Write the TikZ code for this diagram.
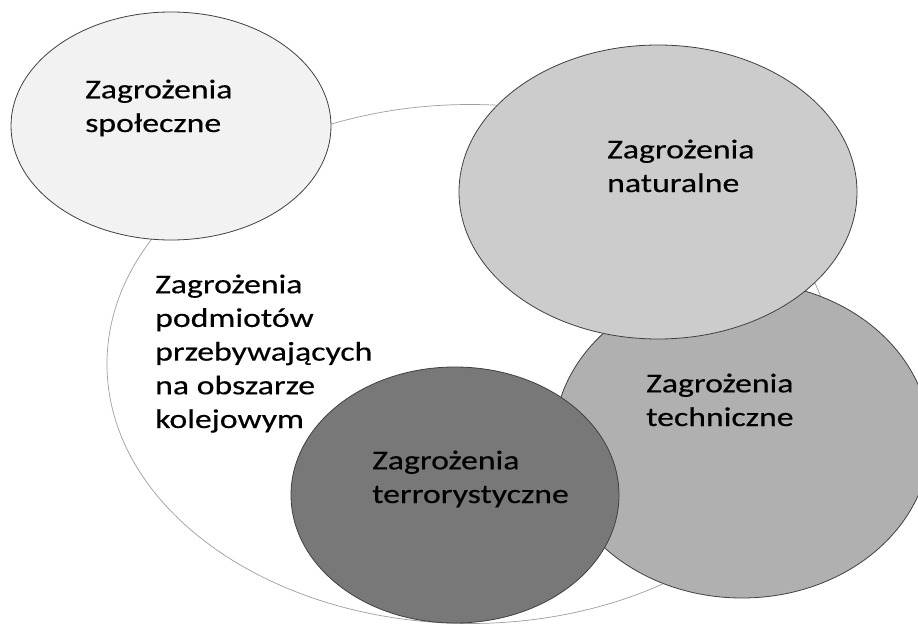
\documentclass[tikz,border=0pt]{standalone}
\usepackage{fontspec}
\setmainfont{Carlito}[FakeStretch=1.25,FakeBold=0.4]
\usetikzlibrary{shapes.geometric}
\begin{document}
\begin{tikzpicture}[x=1pt,y=-1pt,
  blob/.style={ellipse,draw=black!75,line width=0.8pt,inner sep=0pt},
  lbl/.style={anchor=base west,align=left,inner sep=0pt,font=\fontsize{27}{33.7}\selectfont}]
\useasboundingbox[fill=white] (0,0) rectangle (918,626);
\node[ellipse,draw=black!38,line width=0.7pt,minimum width=726pt,minimum height=519pt] (outer) at (470,364) {};
\node[blob,fill=black!5,minimum width=320pt,minimum height=228pt] (spol) at (171,126) {};
\node[blob,fill=black!31,minimum width=376pt,minimum height=316pt] (tech) at (742,440) {};
\node[blob,fill=black!20,minimum width=398pt,minimum height=294pt] (nat) at (658,192) {};
\node[blob,fill=black!53,minimum width=328pt,minimum height=256pt] (terr) at (455,495) {};
\node[lbl] (tspol) at (85,132) {Zagrożenia\\społeczne};
\node[lbl] (tnat) at (607,192) {Zagrożenia\\naturalne};
\node[lbl] (touter) at (155,428) {Zagrożenia\\podmiotów\\przebywających\\na obszarze\\kolejowym};
\node[lbl] (ttech) at (646,426) {Zagrożenia\\techniczne};
\node[lbl] (tterr) at (372,503) {Zagrożenia\\terrorystyczne};
\end{tikzpicture}
\end{document}
